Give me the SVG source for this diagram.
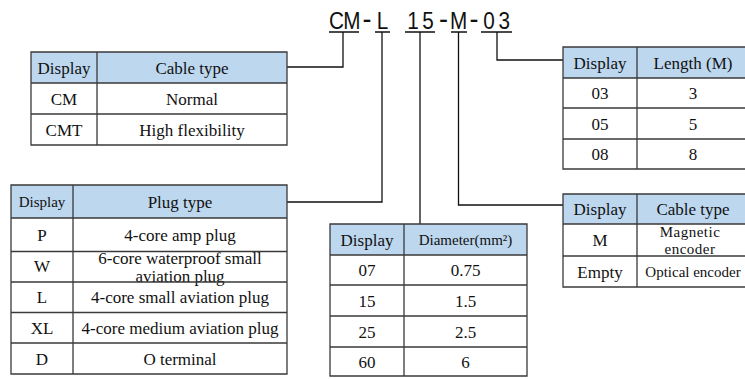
<svg xmlns="http://www.w3.org/2000/svg" width="745" height="379" viewBox="0 0 745 379">
<style>
.hd{fill:#BDD7EE;stroke:none}
.bg{fill:#ffffff;stroke:none}
.grid{stroke:#3a3a3a;stroke-width:1.3;fill:none}
.t{font-family:'Liberation Serif','Times New Roman','DejaVu Serif',serif;font-size:17px;fill:#111;text-anchor:middle}
.s{font-size:15px}
.title{font-family:'Liberation Sans',Arial,sans-serif;font-size:23px;fill:#111;text-anchor:middle}
.dash{font-size:30px}
.conn{stroke:#111;stroke-width:1.3;fill:none}
</style>
<rect x="0" y="0" width="745" height="379" fill="#ffffff"/>

<g id="code">
<text class="title" transform="translate(0,28.5) scale(0.9,1)" y="0"><tspan x="374">C</tspan><tspan x="391">M</tspan><tspan class="dash" x="407.9">-</tspan><tspan x="424.9">L</tspan><tspan x="441.8"> </tspan><tspan x="458.8">1</tspan><tspan x="475.7">5</tspan><tspan class="dash" x="492.7">-</tspan><tspan x="509.6">M</tspan><tspan class="dash" x="526.6">-</tspan><tspan x="543.4">0</tspan><tspan x="560.4">3</tspan></text>
</g>

<g id="connectors">
<path class="conn" d="M329,32 H359 M375,32 H390 M405,32 H435 M451,32 H467 M481,32 H512"/>
<path class="conn" d="M343,32 V67 H287"/>
<path class="conn" d="M382,32 V202 H287"/>
<path class="conn" d="M420,32 V224"/>
<path class="conn" d="M458.5,32 V205 H563"/>
<path class="conn" d="M497,32 V60 H563"/>
</g>

<g id="table-cable-type">
<rect class="bg" x="31" y="52" width="256" height="93"/>
<rect class="hd" x="31" y="52" width="256" height="31"/>
<text class="t" x="64" y="74">Display</text>
<text class="t" x="192" y="74">Cable type</text>
<text class="t" x="64" y="104.5">CM</text>
<text class="t" x="192" y="104.5">Normal</text>
<text class="t" x="64" y="135.5">CMT</text>
<text class="t" x="192" y="135.5">High flexibility</text>
<path class="grid" d="M31,52 H287 V145 H31 Z M97,52 V145 M31,83 H287 M31,114 H287"/>
</g>

<g id="table-plug-type">
<rect class="bg" x="11" y="185" width="276" height="189"/>
<rect class="hd" x="11" y="185" width="276" height="33"/>
<text class="t s" x="42" y="207">Display</text>
<text class="t" x="180" y="207.5">Plug type</text>
<text class="t" x="42" y="240.5">P</text>
<text class="t" x="180" y="240.5">4-core amp plug</text>
<text class="t" x="42" y="272">W</text>
<text class="t" x="180" y="263.5">6-core waterproof small</text>
<text class="t" x="180" y="281.5">aviation plug</text>
<text class="t" x="42" y="303">L</text>
<text class="t" x="180" y="303">4-core small aviation plug</text>
<text class="t" x="42" y="333.5">XL</text>
<text class="t" x="180" y="333.5">4-core medium aviation plug</text>
<text class="t" x="42" y="364.5">D</text>
<text class="t" x="180" y="364.5">O terminal</text>
<path class="grid" d="M11,185 H287 V374 H11 Z M73,185 V374 M11,218 H287 M11,251.5 H287 M11,282 H287 M11,312.5 H287 M11,343 H287"/>
</g>

<g id="table-diameter">
<rect class="bg" x="330" y="224" width="197" height="152"/>
<rect class="hd" x="330" y="224" width="197" height="31"/>
<text class="t" x="367" y="245.5">Display</text>
<text class="t s" x="465.5" y="245">Diameter(mm²)</text>
<text class="t" x="367" y="276">07</text>
<text class="t" x="465.5" y="276">0.75</text>
<text class="t" x="367" y="306.5">15</text>
<text class="t" x="465.5" y="306.5">1.5</text>
<text class="t" x="367" y="337.5">25</text>
<text class="t" x="465.5" y="337.5">2.5</text>
<text class="t" x="367" y="367.5">60</text>
<text class="t" x="465.5" y="367.5">6</text>
<path class="grid" d="M330,224 H527 V376 H330 Z M404,224 V376 M330,255 H527 M330,285 H527 M330,316 H527 M330,347 H527"/>
</g>

<g id="table-length">
<rect class="bg" x="563" y="47" width="190" height="122"/>
<rect class="hd" x="563" y="47" width="190" height="31"/>
<text class="t" x="600" y="68.5">Display</text>
<text class="t" x="693" y="68.5">Length (M)</text>
<text class="t" x="600" y="99">03</text>
<text class="t" x="693" y="99">3</text>
<text class="t" x="600" y="129.5">05</text>
<text class="t" x="693" y="129.5">5</text>
<text class="t" x="600" y="160">08</text>
<text class="t" x="693" y="160">8</text>
<path class="grid" d="M753,47 H563 V169 H753 M637,47 V169 M563,78 H753 M563,108 H753 M563,139 H753"/>
</g>

<g id="table-encoder">
<rect class="bg" x="563" y="194" width="190" height="93"/>
<rect class="hd" x="563" y="194" width="190" height="30"/>
<text class="t" x="600" y="215">Display</text>
<text class="t" x="693" y="215">Cable type</text>
<text class="t" x="600" y="246">M</text>
<text class="t s" x="690" y="237" letter-spacing="0.5">Magnetic</text>
<text class="t s" x="690" y="254" letter-spacing="0.5">encoder</text>
<text class="t" x="600" y="277.5">Empty</text>
<text class="t s" x="693" y="277">Optical encoder</text>
<path class="grid" d="M753,194 H563 V287 H753 M637,194 V287 M563,224 H753 M563,256 H753"/>
</g>
</svg>
